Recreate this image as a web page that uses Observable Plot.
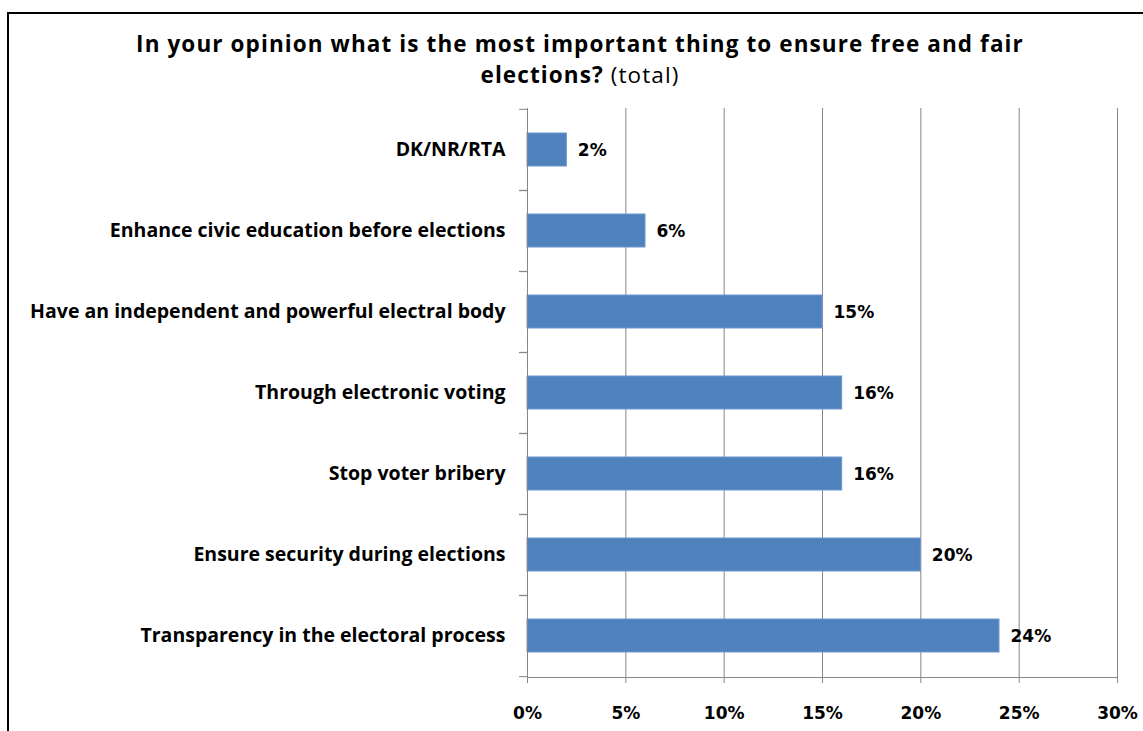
<!DOCTYPE html>
<html>
<head>
<meta charset="utf-8">
<script src="https://cdn.jsdelivr.net/npm/d3@7"></script>
<script src="https://cdn.jsdelivr.net/npm/@observablehq/plot@0.6"></script>
<style>
  html, body { margin: 0; padding: 0; background: #fff; width: 1143px; height: 731px; overflow: hidden; }
  #frame { position: absolute; left: 7px; top: 12px; width: 1200px; height: 800px; border: 2px solid #000; z-index: 5; pointer-events: none; }
  .t { position: absolute; left: 0; width: 1160px; height: 28px; text-align: center; font-family: "Open Sans", sans-serif; font-weight: bold; font-size: 22.5px; letter-spacing: 1.1px; line-height: 28px; color: #000; white-space: nowrap; }
  #t1 { top: 30px; }
  #t2 { top: 61px; }
  .t .n { font-weight: normal; }
  #chart { position: absolute; left: 0; top: 95px; }
</style>
</head>
<body>
<div id="frame"></div>
<div class="t" id="t1">In your opinion what is the most important thing to ensure free and fair</div>
<div class="t" id="t2">elections? <span class="n">(total)</span></div>
<div id="chart"></div>
<script>
const categories = [
  "DK/NR/RTA",
  "Enhance civic education before elections",
  "Have an independent and powerful electral body",
  "Through electronic voting",
  "Stop voter bribery",
  "Ensure security during elections",
  "Transparency in the electoral process"
];
const values = [2, 6, 15, 16, 16, 20, 24];
const xTicks = [0, 5, 10, 15, 20, 25, 30];

const data = categories.map((c, i) => ({label: c, value: values[i]}));

const W = 1143, H = 636, mt = 13, mb = 54, ml = 527, mr = 26;
const pi = 0.594, po = pi / 2;
const step = (H - mt - mb) / (categories.length - pi + 2 * po);
const gray = "#868686";
const labelFont = "Open Sans, sans-serif";
const numFont = "DejaVu Sans, Verdana, sans-serif";

const chart = Plot.plot({
  width: W,
  height: H,
  marginTop: mt,
  marginBottom: mb,
  marginLeft: ml,
  marginRight: mr,
  style: {background: "transparent", color: "#000"},
  x: {domain: [0, 30], axis: null},
  y: {domain: categories, paddingInner: pi, paddingOuter: po, axis: null},
  marks: [
    Plot.ruleX(xTicks.slice(1), {stroke: gray, strokeWidth: 1, strokeOpacity: 1}),
    Plot.barX(data, {x: "value", y: "label", fill: "#4F81BD", stroke: "#6f97cc", strokeWidth: 1}),
    Plot.ruleX([0], {stroke: gray, strokeWidth: 1, strokeOpacity: 1}),
    Plot.frame({anchor: "bottom", stroke: gray, strokeOpacity: 1}),
    Plot.axisY({tickSize: 8, tickFormat: () => "", dy: -step / 2, stroke: gray, strokeOpacity: 1, label: null}),
    Plot.axisY({tickSize: 8, tickFormat: () => "", dy: step / 2, stroke: gray, strokeOpacity: 1, label: null}),
    Plot.axisX({ticks: xTicks, tickSize: 6, tickPadding: 23, tickFormat: d => d + "%", stroke: gray, strokeOpacity: 1, fill: "#000", fontSize: 17, fontWeight: "bold", fontFamily: numFont, label: null}),
    Plot.text(categories, {y: d => d, frameAnchor: "left", textAnchor: "end", dx: -22, fontFamily: labelFont, fontWeight: "bold", fontSize: 19.5, fill: "#000"}),
    Plot.text(data, {x: "value", y: "label", text: d => d.value + "%", dx: 11, dy: 1, textAnchor: "start", fontFamily: numFont, fontWeight: "bold", fontSize: 17, fill: "#000"})
  ]
});
document.getElementById("chart").append(chart);
</script>
</body>
</html>
